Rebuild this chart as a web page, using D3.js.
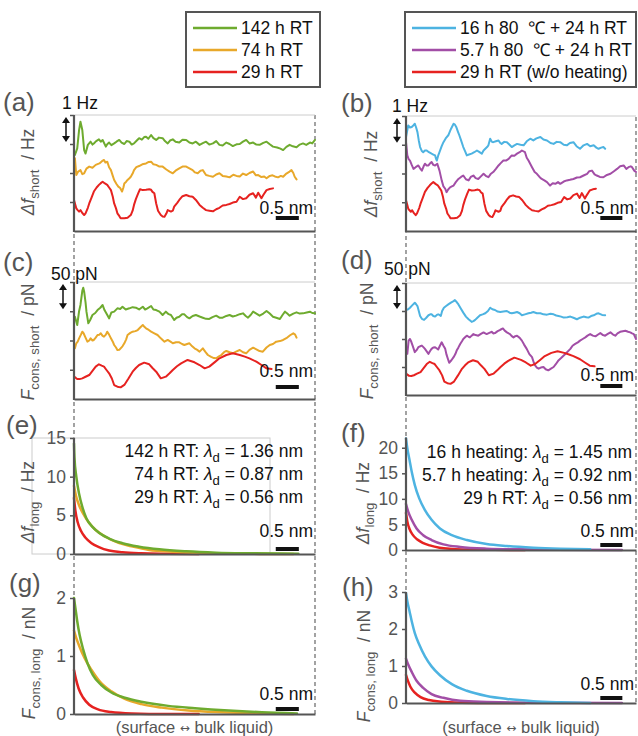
<!DOCTYPE html>
<html><head><meta charset="utf-8">
<script src="https://cdn.jsdelivr.net/npm/d3@7"></script>
<style>body{margin:0;background:#fff}svg{display:block}text{font-family:'Liberation Sans',Arial,sans-serif;white-space:pre}</style>
</head><body>
<script>
// ---------- data (x in nm, y in panel units) ----------
const xDomain = [0, 5.22];
const legendLeft = ["142 h RT", "74 h RT", "29 h RT"];
const legendRight = ["16 h 80  \u2103 + 24 h RT", "5.7 h 80  \u2103 + 24 h RT", "29 h RT (w/o heating)"];

// short-range frequency shift (Hz, stacked offsets)
const dfShort142 = [[0.02,2.62],[0.07,2.85],[0.11,3.48],[0.14,3.77],[0.18,3.48],[0.22,2.79],[0.25,2.67],[0.30,2.97],[0.36,3.08],[0.40,2.98],[0.43,3.02],[0.48,3.10],[0.54,3.16],[0.58,3.08],[0.62,3.14],[0.69,2.91],[0.72,2.99],[0.76,3.05],[0.81,2.96],[0.87,3.02],[0.92,3.08],[0.98,3.14],[1.03,3.05],[1.09,3.0],[1.14,3.10],[1.20,3.08],[1.25,2.98],[1.30,3.02],[1.36,3.12],[1.41,3.20],[1.47,3.15],[1.52,3.24],[1.56,3.25],[1.61,3.18],[1.67,3.31],[1.72,3.20],[1.78,3.14],[1.84,3.22],[1.92,3.20],[1.97,3.10],[2.03,3.02],[2.08,3.12],[2.14,3.16],[2.20,3.08],[2.28,3.05],[2.35,3.15],[2.43,3.14],[2.50,3.05],[2.57,3.02],[2.64,3.08],[2.72,2.97],[2.79,3.03],[2.86,3.08],[2.93,2.98],[3.01,3.02],[3.08,3.10],[3.15,2.97],[3.22,2.95],[3.30,3.05],[3.37,3.0],[3.44,2.93],[3.52,2.99],[3.59,3.0],[3.66,3.08],[3.73,3.14],[3.80,3.02],[3.88,3.05],[3.95,2.98],[4.02,2.97],[4.10,3.04],[4.17,3.08],[4.24,2.99],[4.31,2.91],[4.40,2.88],[4.47,2.84],[4.53,2.79],[4.60,2.90],[4.67,2.97],[4.74,2.92],[4.82,2.89],[4.89,2.98],[4.96,3.02],[5.03,2.97],[5.11,3.05],[5.16,3.02],[5.22,3.14]];
const dfShort74 = [[0.02,2.51],[0.05,1.93],[0.09,2.05],[0.14,2.10],[0.18,1.96],[0.22,1.99],[0.27,2.15],[0.33,2.22],[0.40,2.18],[0.47,2.28],[0.55,2.33],[0.60,2.40],[0.65,2.45],[0.68,2.36],[0.72,2.39],[0.76,2.20],[0.80,2.10],[0.84,1.90],[0.87,1.76],[0.92,1.62],[0.96,1.53],[1.0,1.48],[1.04,1.36],[1.07,1.50],[1.09,1.64],[1.13,1.70],[1.16,1.76],[1.20,1.82],[1.23,1.87],[1.27,1.98],[1.30,2.10],[1.35,2.20],[1.41,2.24],[1.48,2.30],[1.56,2.33],[1.62,2.38],[1.67,2.39],[1.72,2.30],[1.78,2.28],[1.85,2.22],[1.92,2.22],[2.0,2.12],[2.07,2.05],[2.14,1.99],[2.20,2.08],[2.28,2.16],[2.35,2.22],[2.43,2.22],[2.50,2.16],[2.57,2.10],[2.62,2.02],[2.68,1.99],[2.74,2.08],[2.79,2.10],[2.86,1.93],[2.93,1.90],[3.01,1.87],[3.08,1.95],[3.15,1.99],[3.22,1.90],[3.30,1.88],[3.37,1.85],[3.45,1.94],[3.52,1.90],[3.59,1.88],[3.66,1.98],[3.73,1.93],[3.80,2.0],[3.88,2.05],[3.94,1.92],[3.99,1.93],[4.06,1.86],[4.12,1.88],[4.17,1.82],[4.24,1.90],[4.30,1.92],[4.35,1.88],[4.42,1.85],[4.48,1.90],[4.53,1.87],[4.60,1.98],[4.67,2.05],[4.71,2.10],[4.75,2.00],[4.78,1.87],[4.82,1.78]];
const dfShort29 = [[0,1.07],[0.03,0.90],[0.05,0.78],[0.08,0.72],[0.11,0.67],[0.14,0.72],[0.18,0.62],[0.22,0.55],[0.25,0.61],[0.30,0.80],[0.33,0.95],[0.38,1.15],[0.43,1.36],[0.49,1.50],[0.54,1.59],[0.58,1.65],[0.62,1.70],[0.67,1.64],[0.72,1.59],[0.76,1.50],[0.80,1.41],[0.84,1.18],[0.87,0.95],[0.91,0.78],[0.94,0.61],[0.98,0.52],[1.01,0.44],[1.09,0.44],[1.16,0.46],[1.23,0.55],[1.27,0.70],[1.30,0.90],[1.34,1.10],[1.39,1.30],[1.43,1.44],[1.49,1.41],[1.56,1.42],[1.63,1.44],[1.67,1.42],[1.70,1.35],[1.74,1.30],[1.78,0.95],[1.82,0.70],[1.88,0.55],[1.92,0.50],[1.96,0.49],[2.0,0.60],[2.03,0.72],[2.10,0.67],[2.14,0.70],[2.17,0.84],[2.24,0.98],[2.28,1.07],[2.35,1.20],[2.43,1.24],[2.50,1.20],[2.57,1.18],[2.64,1.07],[2.72,0.90],[2.79,0.80],[2.86,0.72],[2.93,0.70],[3.01,0.68],[3.08,0.75],[3.15,0.80],[3.22,0.88],[3.30,0.90],[3.37,0.93],[3.44,0.98],[3.52,1.01],[3.59,1.18],[3.66,1.10],[3.73,1.13],[3.80,1.25],[3.88,1.30],[3.94,1.15],[3.99,1.32],[4.06,1.13],[4.10,1.24],[4.17,1.41],[4.24,1.45],[4.31,1.47]];
const dfShort16h = [[0,3.27],[0.05,3.67],[0.09,3.60],[0.13,3.62],[0.17,3.68],[0.20,3.73],[0.23,3.60],[0.26,3.44],[0.29,3.15],[0.32,2.92],[0.36,2.78],[0.39,2.74],[0.43,2.80],[0.47,2.80],[0.52,2.74],[0.58,2.69],[0.62,2.66],[0.66,2.63],[0.68,2.52],[0.70,2.45],[0.73,2.62],[0.76,2.74],[0.81,2.95],[0.85,3.09],[0.90,3.22],[0.96,3.33],[1.02,3.55],[1.08,3.73],[1.11,3.70],[1.14,3.62],[1.18,3.45],[1.21,3.33],[1.25,3.15],[1.30,2.92],[1.34,2.78],[1.38,2.63],[1.43,2.66],[1.49,2.69],[1.55,2.74],[1.61,2.80],[1.66,2.75],[1.72,2.69],[1.76,2.80],[1.80,2.86],[1.84,2.92],[1.87,2.98],[1.91,3.21],[1.95,3.10],[1.98,3.09],[2.04,3.12],[2.10,3.15],[2.14,3.06],[2.17,3.03],[2.23,3.10],[2.29,3.09],[2.35,3.0],[2.40,2.92],[2.46,2.98],[2.52,3.03],[2.60,3.0],[2.67,2.98],[2.74,3.12],[2.82,3.21],[2.89,3.15],[2.96,3.22],[3.05,3.27],[3.12,3.18],[3.20,3.15],[3.28,3.06],[3.35,3.03],[3.42,3.10],[3.50,3.09],[3.58,3.0],[3.65,2.98],[3.72,3.06],[3.80,3.09],[3.87,2.95],[3.95,2.86],[4.03,2.98],[4.11,3.03],[4.18,2.95],[4.26,2.98],[4.32,2.90],[4.37,2.86],[4.43,2.90],[4.48,2.92],[4.52,2.86]];
const dfShort5h = [[0,3.09],[0.03,2.63],[0.06,2.50],[0.09,2.45],[0.13,2.30],[0.17,2.16],[0.22,2.22],[0.28,2.28],[0.32,2.18],[0.36,2.10],[0.40,2.25],[0.43,2.34],[0.47,2.28],[0.51,2.28],[0.55,2.36],[0.58,2.40],[0.62,2.30],[0.66,2.28],[0.71,2.34],[0.76,2.10],[0.81,1.76],[0.85,1.55],[0.89,1.47],[0.92,1.35],[0.96,1.45],[1.0,1.52],[1.04,1.55],[1.08,1.58],[1.13,1.70],[1.19,1.81],[1.25,1.88],[1.30,1.93],[1.36,1.80],[1.42,1.76],[1.47,1.88],[1.53,1.93],[1.58,1.84],[1.64,1.81],[1.70,1.90],[1.76,1.99],[1.81,1.92],[1.87,1.87],[1.92,1.98],[1.98,2.05],[2.04,2.16],[2.10,2.28],[2.15,2.36],[2.21,2.45],[2.27,2.45],[2.33,2.51],[2.40,2.63],[2.46,2.62],[2.52,2.69],[2.58,2.74],[2.63,2.80],[2.70,2.74],[2.74,2.55],[2.78,2.45],[2.86,2.22],[2.92,2.05],[2.97,1.99],[3.03,1.88],[3.08,1.81],[3.14,1.76],[3.20,1.70],[3.27,1.58],[3.33,1.66],[3.39,1.64],[3.45,1.70],[3.50,1.64],[3.58,1.72],[3.65,1.76],[3.72,1.78],[3.80,1.81],[3.88,1.86],[3.95,1.87],[4.03,1.93],[4.11,1.99],[4.16,2.08],[4.22,2.10],[4.28,1.97],[4.33,1.93],[4.40,1.88],[4.48,1.87],[4.56,1.95],[4.64,1.99],[4.72,2.08],[4.79,2.16],[4.86,2.25],[4.94,2.28],[5.0,2.16],[5.05,2.22],[5.10,2.25],[5.13,2.22],[5.18,2.10],[5.22,2.05]];

// short-range conservative force (pN, stacked offsets)
const fShort142 = [[0.02,140.7],[0.07,126.5],[0.11,150],[0.14,160.7],[0.18,185],[0.20,190.3],[0.22,183.5],[0.25,165],[0.27,149.3],[0.31,129.3],[0.35,135],[0.40,143.6],[0.46,147],[0.51,152.1],[0.57,156],[0.62,160.7],[0.66,152],[0.70,146.4],[0.76,137.9],[0.81,148],[0.87,149.3],[0.94,155.0],[1.0,154],[1.05,157.8],[1.12,153],[1.20,155.0],[1.27,157],[1.34,156.1],[1.41,153],[1.49,157.8],[1.54,153],[1.59,155.0],[1.67,159.0],[1.72,153],[1.78,152.1],[1.85,149.3],[1.92,143.6],[1.99,149.3],[2.05,145],[2.10,143.6],[2.17,135.0],[2.22,139],[2.28,140.7],[2.34,145],[2.39,144.7],[2.45,140],[2.50,137.9],[2.57,142],[2.64,143.6],[2.72,141],[2.79,139.0],[2.86,137],[2.93,136.8],[3.0,140],[3.08,142.5],[3.15,139],[3.22,139.0],[3.30,142],[3.37,143.6],[3.44,141],[3.51,142.5],[3.59,145],[3.66,146.4],[3.72,142],[3.77,139.0],[3.83,144],[3.88,149.3],[3.95,146],[4.02,142.5],[4.10,146],[4.17,150.4],[4.24,146],[4.31,140.7],[4.38,139],[4.46,136.8],[4.52,144],[4.57,149.3],[4.62,146],[4.67,142.5],[4.75,146],[4.82,148.1],[4.89,146],[4.96,146.4],[5.04,148],[5.11,149.3],[5.16,147],[5.22,146.4]];
const fShort74 = [[0.02,86.6],[0.05,95.2],[0.08,98],[0.11,103.7],[0.15,110],[0.18,115.1],[0.21,112],[0.24,106.6],[0.29,98.0],[0.33,100],[0.36,103.7],[0.40,100],[0.43,100.9],[0.47,105],[0.51,109.4],[0.55,110],[0.58,112.3],[0.62,108],[0.65,106.6],[0.69,110],[0.72,115.1],[0.76,110],[0.80,103.7],[0.84,98],[0.87,92.3],[0.91,88],[0.94,83.8],[0.98,84],[1.01,86.6],[1.05,90],[1.09,95.2],[1.13,102],[1.16,109.4],[1.22,113],[1.27,115.1],[1.33,116],[1.38,117.9],[1.45,123.6],[1.49,126.5],[1.53,123],[1.56,120.8],[1.62,118],[1.67,115.1],[1.74,112.3],[1.81,109.4],[1.88,103.7],[1.96,98.0],[2.03,100.9],[2.09,98],[2.14,95.2],[2.21,97],[2.28,96.9],[2.34,94],[2.39,92.3],[2.45,94],[2.50,95.2],[2.56,90],[2.61,86.6],[2.67,84],[2.72,80.9],[2.79,86.6],[2.85,80],[2.90,75.2],[2.97,72],[3.03,70],[3.08,69.5],[3.14,73],[3.19,75.2],[3.25,80],[3.30,82.1],[3.37,80],[3.44,78.1],[3.51,81],[3.59,83.8],[3.66,80],[3.73,78.1],[3.80,84],[3.88,87.7],[3.95,85],[4.02,82],[4.09,80.9],[4.17,88],[4.24,92.3],[4.31,94],[4.38,98.0],[4.46,99],[4.53,100.9],[4.60,104],[4.68,109],[4.75,112.3],[4.79,110],[4.82,104.8]];
const fShort29 = [[0,38.2],[0.04,36],[0.07,34.2],[0.12,34],[0.18,35.3],[0.25,38],[0.33,41.0],[0.40,48],[0.47,55.3],[0.54,59.3],[0.60,57],[0.65,55.3],[0.70,50],[0.76,43.9],[0.82,35],[0.87,23.9],[0.94,21],[1.01,19.9],[1.09,24],[1.18,35],[1.27,46.7],[1.34,53],[1.41,58.1],[1.52,62.1],[1.63,59.3],[1.70,53],[1.78,46.7],[1.88,35.3],[1.99,38.2],[2.07,44],[2.14,49.6],[2.23,56],[2.32,61.0],[2.46,66.7],[2.61,62.7],[2.72,58.1],[2.83,52.4],[2.93,55.3],[3.05,63],[3.15,69.5],[3.30,75.2],[3.44,78.1],[3.59,75.2],[3.70,72.4],[3.80,69.5],[3.95,63.8],[4.06,58.1],[4.17,52.4],[4.28,51.3]];
const fShort16h = [[0,151.8],[0.05,153],[0.09,155.9],[0.14,160],[0.20,164.7],[0.23,162],[0.26,158.8],[0.29,150],[0.32,141.2],[0.36,136],[0.41,134.1],[0.46,138],[0.51,142.4],[0.55,144],[0.58,144.1],[0.62,141],[0.66,140.0],[0.70,143],[0.73,144.1],[0.76,143],[0.79,141.2],[0.82,150],[0.86,155.9],[0.91,159],[0.96,161.8],[1.02,165],[1.08,167.6],[1.11,169.4],[1.15,166],[1.19,161.8],[1.24,155],[1.30,147.1],[1.36,140],[1.42,135.3],[1.49,130.6],[1.53,132],[1.57,134.1],[1.62,138],[1.68,142.4],[1.74,144],[1.80,145.9],[1.86,150],[1.91,155.9],[1.96,153],[2.02,151.8],[2.08,149],[2.14,148.2],[2.21,149],[2.29,150.0],[2.35,147],[2.40,145.9],[2.46,147],[2.52,148.2],[2.58,146],[2.63,142.4],[2.70,144],[2.78,145.9],[2.84,147],[2.89,148.2],[2.97,146],[3.05,145.9],[3.12,144],[3.20,143.5],[3.28,145],[3.35,144.1],[3.41,142],[3.46,141.2],[3.52,140],[3.58,138.2],[3.66,139],[3.73,140.0],[3.80,138],[3.88,135.3],[3.95,138],[4.03,140.0],[4.09,139],[4.14,138.2],[4.20,141],[4.26,142.4],[4.32,145],[4.37,145.9],[4.45,143],[4.52,142.4]];
const fShort5h = [[0.03,73.5],[0.06,97.1],[0.09,100],[0.12,95],[0.15,88.2],[0.20,76.5],[0.24,80],[0.28,85.3],[0.32,87],[0.36,88.2],[0.40,85],[0.43,82.4],[0.47,78],[0.51,73.5],[0.55,79],[0.58,82.4],[0.62,85],[0.66,85.3],[0.70,83],[0.73,81.2],[0.77,88],[0.81,94.1],[0.85,88],[0.89,82.4],[0.92,72],[0.95,64.7],[0.98,57.6],[1.03,62],[1.08,67.6],[1.12,73],[1.15,79.4],[1.19,85],[1.23,91.2],[1.27,96],[1.30,100],[1.34,103],[1.38,105.9],[1.42,104],[1.45,102.9],[1.49,106],[1.53,108.8],[1.58,107],[1.64,105.9],[1.70,109],[1.76,111.8],[1.80,110],[1.83,108.8],[1.89,111],[1.95,112.9],[1.98,110],[2.02,110.6],[2.08,114],[2.14,116.5],[2.20,118.8],[2.24,115],[2.29,111.8],[2.33,110],[2.36,108.8],[2.40,105],[2.44,102.9],[2.48,105],[2.52,105.9],[2.58,102],[2.63,97.1],[2.68,90],[2.74,82.4],[2.80,73],[2.86,67.6],[2.90,58],[2.93,52.9],[2.97,49],[3.01,47.1],[3.06,49],[3.12,50],[3.17,46],[3.23,44.1],[3.29,47],[3.35,50],[3.40,55],[3.46,61.8],[3.52,66],[3.58,70.6],[3.65,76],[3.73,82.4],[3.78,88],[3.84,91.2],[3.90,94],[3.95,97.1],[4.01,100],[4.07,102.9],[4.12,106],[4.18,108.8],[4.24,106],[4.30,104.7],[4.36,108],[4.41,110.6],[4.47,107],[4.52,105.9],[4.58,109],[4.64,111.8],[4.70,108],[4.75,105.9],[4.80,110],[4.86,112.9],[4.92,114],[4.98,114.7],[5.04,113],[5.09,111.8],[5.13,110],[5.17,108.8],[5.22,100]];

// long-range frequency shift (Hz)
const dfLong142 = [[0,14.3],[0.01,12.5],[0.05,10.0],[0.11,7.8],[0.18,6.1],[0.27,4.6],[0.40,3.5],[0.54,2.75],[0.76,2.0],[1.05,1.4],[1.41,0.95],[1.85,0.6],[2.43,0.34],[3.08,0.17],[3.80,0.09],[4.86,0.04]];
const dfLong74 = [[0,8.8],[0.04,7.6],[0.11,6.3],[0.22,5.0],[0.33,4.0],[0.47,3.1],[0.69,2.2],[0.98,1.4],[1.27,0.95],[1.63,0.52],[2.14,0.3],[2.72,0.13],[3.44,0.04],[4.75,0]];
const dfLong29 = [[0,7.25],[0.03,5.6],[0.08,4.1],[0.15,3.0],[0.25,2.1],[0.38,1.4],[0.54,0.9],[0.76,0.45],[1.05,0.22],[1.45,0.09],[2.0,0.03],[2.7,0]];
const dfLong16h = [[0,21.8],[0.03,19.9],[0.08,17.6],[0.13,15.3],[0.20,12.7],[0.30,10.1],[0.43,7.8],[0.58,5.9],[0.77,4.2],[1.04,2.9],[1.38,1.95],[1.83,1.17],[2.29,0.78],[2.89,0.46],[3.50,0.26],[4.18,0.13]];
const dfLong5h = [[0,9.0],[0.05,7.5],[0.13,5.9],[0.24,4.2],[0.39,2.9],[0.58,1.95],[0.85,1.1],[1.23,0.59],[1.83,0.26],[2.59,0.13],[3.35,0.07],[4.90,0]];

// long-range conservative force (nN)
const fLong142 = [[0,2.0],[0.03,1.83],[0.07,1.60],[0.12,1.37],[0.20,1.11],[0.29,0.88],[0.41,0.67],[0.59,0.50],[0.81,0.37],[1.10,0.28],[1.46,0.21],[2.04,0.14],[2.62,0.10],[3.35,0.06],[4.07,0.03],[4.83,0.01]];
const fLong74 = [[0,1.44],[0.05,1.31],[0.12,1.16],[0.23,0.96],[0.38,0.76],[0.56,0.56],[0.81,0.39],[1.10,0.26],[1.46,0.17],[1.90,0.11],[2.48,0.06],[3.20,0.03],[4.07,0.01],[4.75,0]];
const fLong29 = [[0,0.76],[0.04,0.61],[0.10,0.44],[0.20,0.28],[0.33,0.16],[0.52,0.08],[0.80,0.035],[1.25,0.01],[2.0,0],[2.7,0]];
const fLong16h = [[0,2.97],[0.03,2.75],[0.08,2.48],[0.13,2.21],[0.20,1.89],[0.30,1.58],[0.43,1.26],[0.58,0.99],[0.77,0.75],[1.04,0.51],[1.38,0.33],[1.83,0.19],[2.29,0.11],[2.89,0.05],[3.50,0.02],[4.18,0]];
const fLong5h = [[0,1.20],[0.05,1.04],[0.13,0.84],[0.24,0.60],[0.39,0.41],[0.58,0.24],[0.85,0.14],[1.23,0.06],[1.83,0.03],[2.59,0.01],[4.90,0]];

const decayLeft = [["142 h RT","1.36"],["74 h RT","0.87"],["29 h RT","0.56"]];
const decayRight = [["16 h heating","1.45"],["5.7 h heating","0.92"],["29 h RT","0.56"]];

// ---------- styles ----------
const C = {g:'#6eab2f', o:'#e8a82a', r:'#e62220', c:'#4db3e1', p:'#a24ea6'};
const AX = '#555', TXT = '#555', FS = 17.5;
const cols = {L:{x0:74,x1:315}, R:{x0:406,x1:636}};

const svg = d3.select('body').append('svg').attr('width',638).attr('height',736);

// dashed guides
[[74,115,714],[315,115,714],[406,117,703],[636,117,703]].forEach(d=>{
  svg.append('line').attr('x1',d[0]).attr('x2',d[0]).attr('y1',d[1]).attr('y2',d[2])
    .attr('stroke','#666').attr('stroke-width',1.2).attr('stroke-dasharray','4,3');
});

// legends
function legend(x, w, names, colors){
  const g = svg.append('g');
  g.append('rect').attr('x',x).attr('y',12).attr('width',w).attr('height',75)
    .attr('fill','#fff').attr('stroke',AX).attr('stroke-width',2);
  names.forEach((n,i)=>{
    const yy = 28 + i*22;
    g.append('line').attr('x1',x+7).attr('x2',x+51).attr('y1',yy).attr('y2',yy)
      .attr('stroke',colors[i]).attr('stroke-width',2.5);
    g.append('text').attr('x',x+55).attr('y',yy+6).attr('font-size',FS).attr('fill','#111').text(n);
  });
}
legend(186, 134, legendLeft, [C.g,C.o,C.r]);
legend(405, 231, legendRight, [C.c,C.p,C.r]);

function richText(sel, parts, size){
  parts.forEach(pt=>{
    const t = sel.append('tspan').text(pt.t);
    if(pt.i) t.attr('font-style','italic');
    if(pt.sub){ t.attr('font-size',size*0.75).attr('dy',5); }
    if(pt.unsub){ t.attr('dy',-5); }
  });
}

function panel(p){
  const c = cols[p.col];
  const x = d3.scaleLinear().domain(xDomain).range([c.x0,c.x1]);
  const y = d3.scaleLinear().domain(p.dom).range([p.yB,p.yT]);
  const g = svg.append('g');
  if(p.frame){
    g.append('rect').attr('x',p.frame[0]).attr('y',p.yT).attr('width',p.frame[1]-p.frame[0]).attr('height',p.yB-p.yT)
      .attr('fill','none').attr('stroke','#ccc').attr('stroke-width',1);
  }
  if(p.topLine){
    g.append('line').attr('x1',c.x0).attr('x2',c.x1).attr('y1',p.yT).attr('y2',p.yT)
      .attr('stroke','#ccc').attr('stroke-width',1);
  }
  const line = d3.line().x(d=>x(d[0])).y(d=>y(d[1]))
    .curve(p.smooth ? d3.curveMonotoneX : d3.curveLinear);
  p.series.forEach(s=>{
    g.append('path').attr('d',line(s[0])).attr('fill','none').attr('stroke',s[1])
      .attr('stroke-width',p.lw).attr('stroke-linejoin','round').attr('stroke-linecap','round');
  });
  // y axis
  const ya = d3.axisLeft(y).tickValues(p.ticks).tickSize(4).tickSizeOuter(0)
    .tickFormat(p.tickLabels ? d3.format('d') : '');
  const yg = g.append('g').attr('transform',`translate(${c.x0},0)`).call(ya);
  yg.select('.domain').remove();
  yg.selectAll('.tick line').attr('stroke',AX).attr('stroke-width',1.5);
  yg.selectAll('.tick text').attr('font-size',FS).attr('fill',TXT)
    .attr('font-family',"'Liberation Sans',Arial,sans-serif").attr('x',-8);
  g.append('line').attr('x1',c.x0).attr('x2',c.x0).attr('y1',y(p.axTop)).attr('y2',p.yB+1)
    .attr('stroke',AX).attr('stroke-width',2.2);
  // x axis
  const xa = d3.axisBottom(x).tickValues([]).tickSizeOuter(0);
  const xg = g.append('g').attr('transform',`translate(0,${p.yB})`).call(xa);
  xg.select('.domain').attr('stroke',AX).attr('stroke-width',2.2);
  // scale bar
  g.append('rect').attr('x',x(p.bar)).attr('y',p.barY-2).attr('width',x(p.bar+0.5)-x(p.bar)).attr('height',4).attr('fill','#111');
  g.append('text').attr('x',c.x1-2).attr('y',p.barTxt).attr('text-anchor','end')
    .attr('font-size',FS).attr('fill','#111').text('0.5 nm');
  // panel letter
  g.append('text').attr('x',p.lab[0]).attr('y',p.lab[1]).attr('font-size',26).attr('fill',TXT).text(`(${p.id})`);
  // y label
  const yl = g.append('text').attr('transform',`translate(${p.yl[0]},${p.yl[1]}) rotate(-90)`)
    .attr('text-anchor','middle').attr('font-size',FS).attr('fill',TXT);
  richText(yl, p.ylab, FS);
  // unit arrow
  if(p.arrow){
    const ax = p.arrow[0], y1 = y(p.dom[1])+2, y2 = y(p.dom[1]-p.arrow[1])-2;
    g.append('line').attr('x1',ax).attr('x2',ax).attr('y1',y1+4).attr('y2',y2-4).attr('stroke','#111').attr('stroke-width',1.5);
    g.append('path').attr('d',`M${ax},${y1} l-4,6 l8,0 z`).attr('fill','#111');
    g.append('path').attr('d',`M${ax},${y2} l-4,-6 l8,0 z`).attr('fill','#111');
    g.append('text').attr('x',p.unit[0]).attr('y',p.unit[1]).attr('font-size',FS).attr('fill','#111').text(p.unit[2]);
  }
  // decay annotations
  if(p.decay){
    p.decay.forEach((d,i)=>{
      const t = g.append('text').attr('x',p.decayX).attr('y',p.decayY + i*23).attr('text-anchor','end')
        .attr('font-size',FS).attr('fill','#111');
      richText(t,[{t:d[0]+': '},{t:'\u03bb',i:1},{t:'d',sub:1},{t:' = '+d[1]+' nm',unsub:1}],FS);
    });
  }
  // x label
  if(p.xlab){
    const t = g.append('text').attr('x',(c.x0+c.x1)/2).attr('y',p.xlab).attr('text-anchor','middle')
      .attr('font-size',16.5).attr('fill',TXT);
    t.append('tspan').text('(surface ');
    t.append('tspan').attr('font-size',12).attr('font-family',"'DejaVu Sans',sans-serif").attr('dy',-1).text('\u2194');
    t.append('tspan').attr('dy',1).text(' bulk liquid)');
  }
}

const labDfS = [{t:'\u0394',i:1},{t:'f',i:1},{t:'short',sub:1},{t:'  / Hz',unsub:1}];
const labFS = [{t:'F',i:1},{t:'cons, short',sub:1},{t:'  / pN',unsub:1}];
const labDfL = [{t:'\u0394',i:1},{t:'f',i:1},{t:'long',sub:1},{t:'  / Hz',unsub:1}];
const labFL = [{t:'F',i:1},{t:'cons, long',sub:1},{t:'  / nN',unsub:1}];

panel({id:'a',col:'L',yT:115,yB:231,dom:[0,4],axTop:4,ticks:[1,2,3,4],tickLabels:false,topLine:true,lw:2,
  series:[[dfShort142,C.g],[dfShort74,C.o],[dfShort29,C.r]],
  bar:4.37,barY:218,barTxt:214,lab:[3,111],yl:[34,172],ylab:labDfS,arrow:[66,1],unit:[62,109,'1 Hz']});
panel({id:'b',col:'R',yT:116,yB:231,dom:[0,4],axTop:4,ticks:[1,2,3,4],tickLabels:false,topLine:true,lw:2,
  series:[[dfShort16h,C.c],[dfShort5h,C.p],[dfShort29,C.r]],
  bar:4.41,barY:218,barTxt:214,lab:[341,112],yl:[377,174],ylab:labDfS,arrow:[397,1],unit:[392,112,'1 Hz']});
panel({id:'c',col:'L',yT:282,yB:399,dom:[0,200],axTop:200,ticks:[50,100,150,200],tickLabels:false,topLine:true,lw:2,
  series:[[fShort142,C.g],[fShort74,C.o],[fShort29,C.r]],
  bar:4.37,barY:387,barTxt:377,lab:[3,271],yl:[34,342],ylab:labFS,arrow:[63,50],unit:[51,280,'50 pN']});
panel({id:'d',col:'R',yT:283,yB:395,dom:[0,200],axTop:200,ticks:[50,100,150,200],tickLabels:false,topLine:true,lw:2,
  series:[[fShort16h,C.c],[fShort5h,C.p],[fShort29,C.r]],
  bar:4.41,barY:386,barTxt:381,lab:[341,269],yl:[373,341],ylab:labFS,arrow:[397,50],unit:[384,275,'50 pN']});
panel({id:'e',col:'L',yT:438,yB:554,dom:[0,15],axTop:15,ticks:[0,5,10,15],tickLabels:true,frame:[32,270],lw:2.5,smooth:true,
  series:[[dfLong29,C.r],[dfLong74,C.o],[dfLong142,C.g]],
  bar:4.37,barY:549,barTxt:537,lab:[6,434],yl:[34,502],ylab:labDfL,
  decay:decayLeft,decayX:303,decayY:457});
panel({id:'f',col:'R',yT:437.5,yB:550,dom:[0,22],axTop:22,ticks:[0,5,10,15,20],tickLabels:true,lw:2.5,smooth:true,
  series:[[dfLong29,C.r],[dfLong5h,C.p],[dfLong16h,C.c]],
  bar:4.41,barY:545,barTxt:537,lab:[341,442],yl:[369,503],ylab:labDfL,
  decay:decayRight,decayX:632,decayY:458});
panel({id:'g',col:'L',yT:598,yB:714,dom:[0,2],axTop:2,ticks:[0,1,2],tickLabels:true,lw:2.5,smooth:true,
  series:[[fLong29,C.r],[fLong74,C.o],[fLong142,C.g]],
  bar:4.37,barY:709,barTxt:700,lab:[9,592],yl:[35,663],ylab:labFL,xlab:733});
panel({id:'h',col:'R',yT:592,yB:703,dom:[0,3],axTop:3,ticks:[0,1,2,3],tickLabels:true,lw:2.5,smooth:true,
  series:[[fLong29,C.r],[fLong5h,C.p],[fLong16h,C.c]],
  bar:4.41,barY:698,barTxt:690,lab:[342,596],yl:[370,666],ylab:labFL,xlab:733});
</script>
</body></html>
